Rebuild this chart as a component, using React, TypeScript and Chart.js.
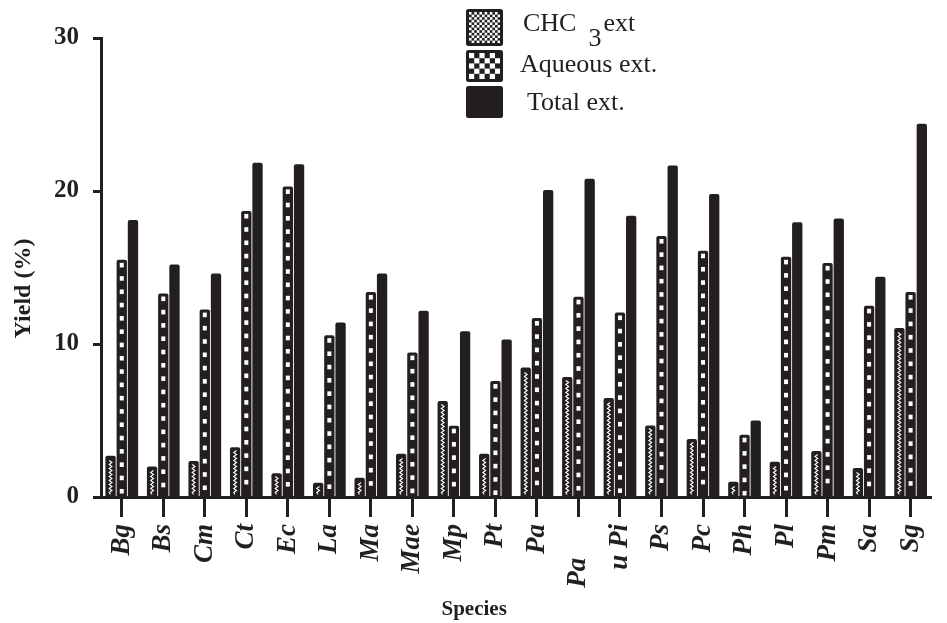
import { useEffect, useRef } from "react";
import { Chart, registerables } from "chart.js";

Chart.register(...registerables);

const species = ["Bg", "Bs", "Cm", "Ct", "Ec", "La", "Ma", "Mae", "Mp", "Pt", "Pa", "Pa     ", "u Pi", "Ps", "Pc", "Ph", "Pl", "Pm", "Sa", "Sg"];
const chc3Ext = [2.7, 2.0, 2.35, 3.25, 1.55, 0.93, 1.26, 2.83, 6.27, 2.83, 8.46, 7.85, 6.47, 4.68, 3.79, 1.0, 2.3, 3.0, 1.9, 11.05];
const aqueousExt = [15.5, 13.3, 12.25, 18.7, 20.3, 10.58, 13.4, 9.44, 4.66, 7.58, 11.7, 13.09, 12.06, 17.06, 16.1, 4.07, 15.7, 15.3, 12.5, 13.4];
const totalExt = [18.1, 15.2, 14.6, 21.85, 21.75, 11.4, 14.6, 12.17, 10.84, 10.3, 20.07, 20.8, 18.39, 21.67, 19.8, 5.0, 17.95, 18.2, 14.4, 24.4];
const yTicks = [0, 10, 20, 30];
const seriesLabels = ["CHC3 ext", "Aqueous ext.", "Total ext."];
const yTitle = "Yield (%)";
const xTitle = "Species";

const INK = "#231f20";
const SERIF = "'Liberation Serif', 'Times New Roman', serif";
const pad = (s: string, n: number) => s + "\u00a0".repeat(n);

const barDecor = {
  id: "barDecor",
  afterDatasetsDraw(chart: any) {
    const ctx = chart.ctx;
    const area = chart.chartArea;
    ctx.save();
    ctx.beginPath();
    ctx.rect(area.left, area.top, area.right - area.left, area.bottom - area.top);
    ctx.clip();
    chart.getDatasetMeta(0).data.forEach((bar: any) => {
      const { x, y, base } = bar.getProps(["x", "y", "base"], true);
      ctx.strokeStyle = "#ffffff";
      ctx.lineWidth = 1.1;
      ctx.beginPath();
      let yy = base - 2;
      let left = true;
      ctx.moveTo(x, yy);
      while (yy - 2 > y + 3) {
        yy -= 2;
        ctx.lineTo(x + (left ? -1.4 : 1.4), yy);
        left = !left;
      }
      ctx.stroke();
    });
    chart.getDatasetMeta(1).data.forEach((bar: any) => {
      const { x, y, base } = bar.getProps(["x", "y", "base"], true);
      ctx.fillStyle = "#ffffff";
      for (let yy = y + 3; yy + 4.5 < base - 1; yy += 13.3) {
        ctx.fillRect(x - 2, yy, 4, 4.6);
      }
    });
    ctx.restore();
  },
};

function roundRect(ctx: CanvasRenderingContext2D, x: number, y: number, w: number, h: number, r: number) {
  ctx.beginPath();
  ctx.moveTo(x + r, y);
  ctx.lineTo(x + w - r, y);
  ctx.quadraticCurveTo(x + w, y, x + w, y + r);
  ctx.lineTo(x + w, y + h - r);
  ctx.quadraticCurveTo(x + w, y + h, x + w - r, y + h);
  ctx.lineTo(x + r, y + h);
  ctx.quadraticCurveTo(x, y + h, x, y + h - r);
  ctx.lineTo(x, y + r);
  ctx.quadraticCurveTo(x, y, x + r, y);
  ctx.closePath();
}

const legendPlugin = {
  id: "customLegend",
  afterDraw(chart: any) {
    const ctx: CanvasRenderingContext2D = chart.ctx;
    ctx.save();
    const boxes = [
      { x: 466, y: 9, w: 37, h: 37, cell: 2.6, textX: 523, base: 31 },
      { x: 466, y: 50, w: 37, h: 32, cell: 5.2, textX: 520, base: 72 },
      { x: 466, y: 86, w: 37, h: 32, cell: 0, textX: 527, base: 110 },
    ];
    boxes.forEach((b, i) => {
      ctx.fillStyle = INK;
      roundRect(ctx, b.x, b.y, b.w, b.h, 2.5);
      ctx.fill();
      if (b.cell > 0) {
        const ix = b.x + 3, iy = b.y + 3, iw = b.w - 6, ih = b.h - 6;
        ctx.save();
        ctx.beginPath();
        ctx.rect(ix, iy, iw, ih);
        ctx.clip();
        ctx.fillStyle = "#ffffff";
        const nx = Math.ceil(iw / b.cell), ny = Math.ceil(ih / b.cell);
        for (let r = 0; r < ny; r++) {
          for (let c = 0; c < nx; c++) {
            if ((r + c) % 2 === 0) ctx.fillRect(ix + c * b.cell, iy + r * b.cell, b.cell, b.cell);
          }
        }
        ctx.restore();
      }
      const label = chart.data.datasets[i].label as string;
      ctx.fillStyle = INK;
      ctx.font = `26px ${SERIF}`;
      ctx.textBaseline = "alphabetic";
      ctx.textAlign = "left";
      const m = label.match(/^(\D+?)(\d+)\s*(.*)$/);
      if (m) {
        ctx.fillText(m[1], b.textX, b.base);
        const w1 = ctx.measureText(m[1]).width;
        const subX = b.textX + w1 + 12;
        ctx.fillText(m[2], subX, b.base + 15);
        const w2 = ctx.measureText(m[2]).width;
        ctx.fillText(m[3], subX + w2 + 2, b.base);
      } else {
        ctx.fillText(label, b.textX, b.base);
      }
    });
    ctx.restore();
  },
};

export default function App() {
  const ref = useRef<HTMLCanvasElement | null>(null);
  useEffect(() => {
    if (!ref.current) return;
    const barCommon = {
      backgroundColor: INK,
      borderWidth: 0,
      borderRadius: { topLeft: 2, topRight: 2, bottomLeft: 0, bottomRight: 0 },
      borderSkipped: "bottom",
      categoryPercentage: 0.81,
      barPercentage: 0.92,
    };
    const chart = new Chart(ref.current, {
      type: "bar",
      data: {
        labels: species,
        datasets: [
          { label: seriesLabels[0], data: chc3Ext, ...barCommon },
          { label: seriesLabels[1], data: aqueousExt, ...barCommon },
          { label: seriesLabels[2], data: totalExt, ...barCommon },
        ],
      } as any,
      options: {
        animation: false,
        responsive: false,
        maintainAspectRatio: false,
        layout: { padding: { top: 38, left: 0, right: 0, bottom: 0 } },
        plugins: { legend: { display: false }, tooltip: { enabled: false } },
        scales: {
          x: {
            type: "category",
            offset: true,
            afterFit: (s: any) => { s.height = 126; },
            grid: { offset: false, drawOnChartArea: false, drawTicks: true, tickLength: 20, tickWidth: 3, tickColor: INK },
            border: { display: true, color: INK, width: 3 },
            ticks: {
              autoSkip: false,
              maxRotation: 90,
              minRotation: 90,
              padding: 7,
              color: INK,
              font: { family: SERIF, size: 27, weight: "bold", style: "italic" },
            },
            title: {
              display: true,
              text: pad(xTitle, 16),
              color: INK,
              font: { family: SERIF, size: 21, weight: "bold" },
              padding: { top: 0, bottom: 1 },
            },
          },
          y: {
            min: 0,
            max: 30,
            afterFit: (s: any) => { s.width = 101; },
            afterBuildTicks: (s: any) => { s.ticks = yTicks.map((v) => ({ value: v })); },
            grid: { drawOnChartArea: false, drawTicks: true, tickLength: 8, tickWidth: 3, tickColor: INK },
            border: { display: true, color: INK, width: 3 },
            ticks: {
              padding: 14,
              color: INK,
              font: { family: SERIF, size: 25, weight: "bold" },
            },
            title: {
              display: true,
              text: pad(yTitle, 7),
              color: INK,
              font: { family: SERIF, size: 24, weight: "bold" },
              padding: { top: 9, bottom: 0 },
            },
          },
        },
      } as any,
      plugins: [barDecor, legendPlugin],
    });
    return () => chart.destroy();
  }, []);
  return (
    <div style={{ position: "fixed", left: 0, top: 0, width: 950, height: 623, overflow: "hidden", background: "#fff" }}>
      <canvas ref={ref} width={950} height={623} style={{ width: 950, height: 623, display: "block" }} />
    </div>
  );
}
